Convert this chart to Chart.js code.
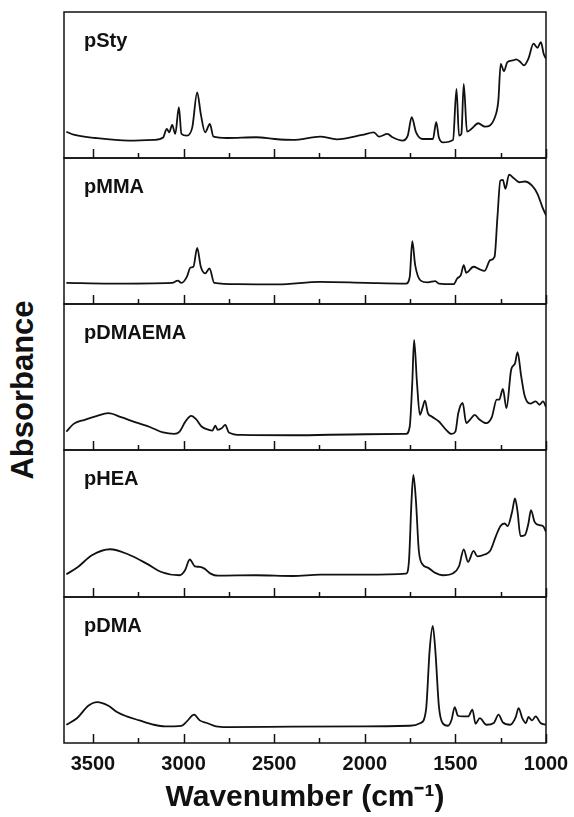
<!DOCTYPE html>
<html>
<head>
<meta charset="utf-8">
<script src="https://cdn.jsdelivr.net/npm/chart.js@4.4.1/dist/chart.umd.min.js"></script>
<style>
    html, body { margin: 0; padding: 0; background: #fff; }
    #figure { position: relative; width: 574px; height: 817px; overflow: hidden; }
    .panel { position: absolute; left: 0; width: 574px; }
    #ylabel {
        position: absolute; left: 23px; top: 390px;
        transform: translate(-50%, -50%) rotate(-90deg);
        font: bold 31px "Liberation Sans", Arial, sans-serif;
        color: #111; white-space: nowrap;
    }
</style>
</head>
<body>
<div id="figure">
    <div id="ylabel">Absorbance</div>
</div>
<script>
// Shared x axis (wavenumber, cm-1), drawn high to low
const X_MIN = 1000;
const X_MAX = 3660;
const MAJOR_TICKS = [3500, 3000, 2500, 2000, 1500, 1000];
const MINOR_TICKS = [3250, 2750, 2250, 1750, 1250];
const PANEL_NAMES = ['pSty', 'pMMA', 'pDMAEMA', 'pHEA', 'pDMA'];

// Absorbance, in % of panel height
const pStyWn  = [3647, 3607, 3486, 3304, 3163, 3113, 3093, 3079, 3063, 3046, 3026, 3012, 2982, 2952, 2925, 2905, 2881, 2855, 2835, 2760, 2599, 2498, 2397, 2246, 2155, 2014, 1950, 1921, 1875, 1847, 1791, 1763, 1741, 1717, 1680, 1624, 1606, 1591, 1569, 1513, 1494, 1480, 1467, 1454, 1436, 1411, 1374, 1337, 1282, 1263, 1250, 1232, 1213, 1183, 1165, 1147, 1121, 1097, 1069, 1047, 1028, 1013, 1000];
const pStyAbs = [18, 16, 13.7, 11.9, 12.4, 14, 20, 17.6, 22.7, 16.5, 34.8, 16.5, 15.3, 21, 45, 30, 17.6, 23.3, 14.6, 13.7, 14.2, 13, 12.4, 14.6, 12.8, 15.8, 17.6, 14.6, 16.5, 14.2, 11.9, 15.3, 27.9, 17.6, 13, 13, 24.5, 14, 10.7, 12.4, 47.4, 15.3, 16.5, 50.8, 18, 20, 23.8, 21.5, 27.9, 39.3, 64.5, 59.5, 65.7, 66.8, 67.5, 66.4, 63.4, 68, 78.3, 75.5, 79.4, 71.4, 68];

const pMmaWn  = [3647, 3405, 3063, 3032, 3012, 2982, 2962, 2946, 2925, 2905, 2881, 2857, 2831, 2700, 2478, 2246, 1994, 1772, 1752, 1738, 1722, 1692, 1652, 1611, 1591, 1510, 1490, 1470, 1454, 1440, 1400, 1369, 1339, 1308, 1284, 1268, 1252, 1238, 1224, 1204, 1177, 1147, 1117, 1077, 1047, 1020, 1000];
const pMmaAbs = [14.5, 14, 14.5, 16, 14.5, 18.6, 25, 25.5, 38.4, 25.5, 21, 24.3, 14.5, 13.6, 13.4, 15.2, 14.5, 14, 18.6, 43, 26.6, 16, 14.8, 15.7, 14, 13.6, 17.5, 19.8, 26.6, 21.4, 25.5, 23.9, 22.7, 30, 32.3, 59.5, 84.5, 85, 78.9, 88.6, 86.1, 83.4, 83.9, 81.1, 75.5, 66.4, 60.7];

const pDmaemaWn  = [3647, 3607, 3546, 3486, 3415, 3345, 3264, 3183, 3113, 3052, 3022, 2992, 2958, 2931, 2901, 2861, 2841, 2825, 2811, 2790, 2770, 2750, 2680, 2397, 1994, 1772, 1752, 1738, 1728, 1712, 1696, 1682, 1668, 1652, 1631, 1591, 1551, 1521, 1500, 1484, 1460, 1440, 1420, 1393, 1369, 1329, 1299, 1272, 1258, 1238, 1218, 1192, 1171, 1157, 1137, 1117, 1087, 1057, 1036, 1016, 1000];
const pDmaemaAbs = [12.6, 17.9, 20.7, 23, 25.3, 22.5, 18.9, 15.6, 12, 11, 12.6, 19.1, 23.4, 21.1, 16.1, 13.8, 13.3, 16.6, 13.8, 14.9, 17.2, 12, 10.3, 10.1, 10.8, 11, 16.1, 46, 75.4, 46, 24.1, 28.7, 33.8, 25.3, 23, 19.5, 13.8, 11, 12.6, 25.3, 32.2, 18.4, 20.7, 24.1, 21.1, 18.4, 22.5, 34.5, 34.5, 41.8, 28.7, 55.2, 59.3, 67.1, 50.6, 36.8, 31.7, 33.3, 31, 33.3, 29.4];

const pHeaWn  = [3647, 3587, 3506, 3405, 3304, 3204, 3123, 3022, 2992, 2966, 2938, 2911, 2885, 2851, 2811, 2599, 2397, 2246, 1994, 1772, 1756, 1742, 1732, 1718, 1702, 1682, 1652, 1611, 1571, 1510, 1480, 1454, 1430, 1400, 1379, 1339, 1308, 1278, 1252, 1228, 1212, 1187, 1171, 1157, 1141, 1117, 1097, 1083, 1063, 1036, 1016, 1000];
const pHeaAbs = [15.5, 20, 28.4, 32.5, 28.9, 22.7, 17, 14.8, 18.2, 25.5, 20.9, 20.5, 19.3, 15.9, 14.5, 14.8, 14.3, 15.2, 15.2, 15.9, 25, 65.9, 83, 65.9, 31.8, 22.3, 20, 16.4, 14.8, 16.4, 20.9, 32.3, 23.9, 31.4, 27.7, 28.9, 31.4, 40.9, 48.2, 50, 48.2, 58, 67, 58, 41.4, 42, 50, 59.1, 51.1, 48.9, 48.2, 44.3];

const pDmaWn  = [3647, 3587, 3526, 3476, 3415, 3365, 3314, 3244, 3163, 3103, 3012, 2982, 2942, 2911, 2871, 2821, 2760, 2397, 1994, 1752, 1692, 1662, 1642, 1625, 1611, 1591, 1571, 1541, 1521, 1504, 1486, 1460, 1430, 1406, 1389, 1365, 1329, 1288, 1262, 1238, 1198, 1167, 1151, 1131, 1111, 1097, 1077, 1057, 1030, 1000];
const pDmaAbs = [12.5, 17.1, 25.5, 28, 25.5, 21, 18.2, 15.5, 12.5, 11.4, 11.8, 14.8, 19.4, 15.5, 13.7, 11.4, 10.9, 11.2, 11.4, 11.8, 13.7, 22.8, 63.8, 80.2, 63.8, 25.1, 13.7, 11.8, 15.9, 24.6, 18.7, 18.2, 18.2, 22.8, 13.2, 17.1, 12.5, 13.7, 19.4, 14.1, 12.5, 17.8, 23.9, 17.1, 13.7, 17.8, 15.5, 18.2, 13.7, 12.5];

const SERIES = [
    [pStyWn, pStyAbs],
    [pMmaWn, pMmaAbs],
    [pDmaemaWn, pDmaemaAbs],
    [pHeaWn, pHeaAbs],
    [pDmaWn, pDmaAbs]
];

const FONT = '"Liberation Sans", Arial, sans-serif';
const INK = '#111';

// Panel edges in page pixels
const PANEL_EDGES = [12, 158, 304, 450, 597, 743];
const PLOT_LEFT = 64;
const PLOT_RIGHT = 546;
const AXIS_HEIGHT = 74;

// Frame, inward ticks and panel label
const panelDecor = {
    id: 'panelDecor',
    afterDraw(chart, args, opts) {
        const { ctx, chartArea: a } = chart;
        const xs = chart.scales.x;
        ctx.save();
        ctx.strokeStyle = INK;
        ctx.lineWidth = 1.5;
        ctx.beginPath();
        MAJOR_TICKS.forEach(v => {
            const px = Math.round(xs.getPixelForValue(v)) + 0.5;
            ctx.moveTo(px, a.bottom);
            ctx.lineTo(px, a.bottom - 9);
        });
        MINOR_TICKS.forEach(v => {
            const px = Math.round(xs.getPixelForValue(v)) + 0.5;
            ctx.moveTo(px, a.bottom);
            ctx.lineTo(px, a.bottom - 5);
        });
        ctx.stroke();
        ctx.strokeRect(a.left, a.top, a.right - a.left, a.bottom - a.top);

        ctx.fillStyle = INK;
        ctx.font = 'bold 20px ' + FONT;
        ctx.textBaseline = 'alphabetic';
        ctx.fillText(opts.label, a.left + 20, a.top + 35);
        ctx.restore();
    }
};

function makePanel(i) {
    const isLast = i === SERIES.length - 1;
    const top = PANEL_EDGES[i];
    const bottom = PANEL_EDGES[i + 1];
    const divTop = top - 2;
    const divHeight = isLast ? 817 - divTop : (bottom - top) + 4;

    const div = document.createElement('div');
    div.className = 'panel';
    div.style.top = divTop + 'px';
    div.style.height = divHeight + 'px';
    div.innerHTML = '<canvas></canvas>';
    document.getElementById('figure').appendChild(div);

    const [wn, abs] = SERIES[i];

    new Chart(div.querySelector('canvas'), {
        type: 'line',
        data: {
            datasets: [{
                label: PANEL_NAMES[i],
                data: wn.map((w, k) => ({ x: w, y: abs[k] })),
                borderColor: INK,
                borderWidth: 1.8,
                pointRadius: 0,
                fill: false,
                cubicInterpolationMode: 'monotone'
            }]
        },
        options: {
            responsive: true,
            maintainAspectRatio: false,
            animation: false,
            layout: {
                padding: { top: 2, bottom: isLast ? 0 : 2, left: PLOT_LEFT, right: 574 - PLOT_RIGHT }
            },
            plugins: {
                legend: { display: false },
                tooltip: { enabled: false },
                panelDecor: { label: PANEL_NAMES[i] }
            },
            scales: {
                x: {
                    type: 'linear',
                    reverse: true,
                    min: X_MIN,
                    max: X_MAX,
                    display: isLast,
                    afterBuildTicks: scale => {
                        scale.ticks = MAJOR_TICKS.map(v => ({ value: v }));
                    },
                    afterFit: scale => {
                        // only the bottom panel carries labels and the title
                        scale.height = isLast ? AXIS_HEIGHT : 0;
                        scale.paddingLeft = 0;
                        scale.paddingRight = 0;
                    },
                    grid: { display: false, drawTicks: false },
                    border: { display: false },
                    ticks: {
                        autoSkip: false,
                        maxRotation: 0,
                        padding: 9,
                        color: INK,
                        font: { family: FONT, size: 20, weight: 'bold' },
                        callback: v => String(v)
                    },
                    title: {
                        display: true,
                        text: 'Wavenumber (cm⁻¹)',
                        color: INK,
                        padding: { top: 0, bottom: 1 },
                        font: { family: FONT, size: 30, weight: 'bold' }
                    }
                },
                y: {
                    display: false,
                    min: 0,
                    max: 100
                }
            }
        },
        plugins: [panelDecor]
    });
}

SERIES.forEach((_, i) => makePanel(i));
</script>
</body>
</html>
